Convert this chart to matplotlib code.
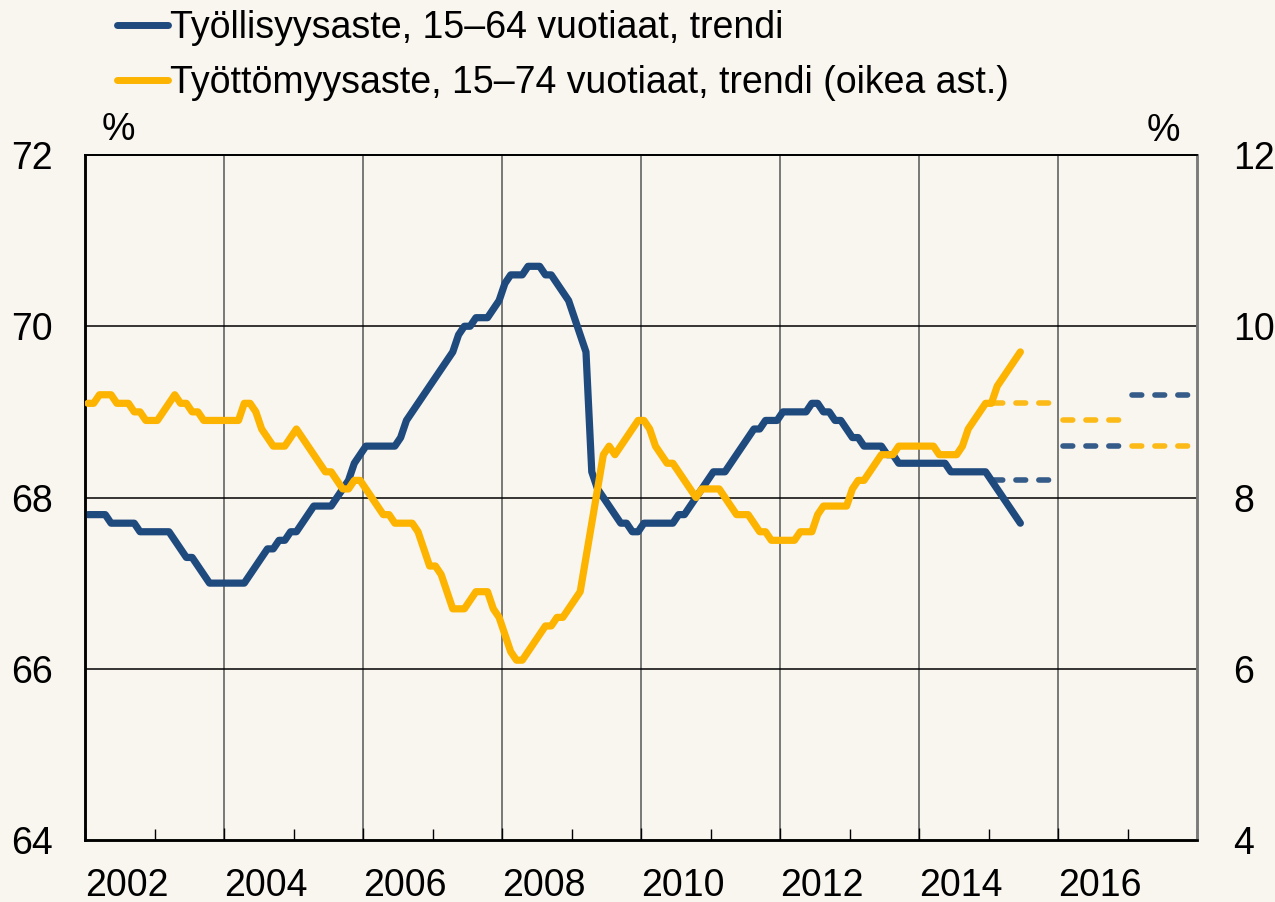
import matplotlib
matplotlib.use('Agg')
import matplotlib.pyplot as plt
from matplotlib.lines import Line2D
from matplotlib.ticker import MultipleLocator

plt.rcParams['font.family'] = ['Liberation Sans', 'DejaVu Sans']
plt.rcParams['lines.scale_dashes'] = False

# monthly trend data, Jan 2002 - Jun 2015 (one row per year)
employment = [
    67.8, 67.8, 67.8, 67.8, 67.7, 67.7, 67.7, 67.7, 67.7, 67.6, 67.6, 67.6,  # 2002
    67.6, 67.6, 67.6, 67.5, 67.4, 67.3, 67.3, 67.2, 67.1, 67.0, 67.0, 67.0,  # 2003
    67.0, 67.0, 67.0, 67.0, 67.1, 67.2, 67.3, 67.4, 67.4, 67.5, 67.5, 67.6,  # 2004
    67.6, 67.7, 67.8, 67.9, 67.9, 67.9, 67.9, 68.0, 68.1, 68.2, 68.4, 68.5,  # 2005
    68.6, 68.6, 68.6, 68.6, 68.6, 68.6, 68.7, 68.9, 69.0, 69.1, 69.2, 69.3,  # 2006
    69.4, 69.5, 69.6, 69.7, 69.9, 70.0, 70.0, 70.1, 70.1, 70.1, 70.2, 70.3,  # 2007
    70.5, 70.6, 70.6, 70.6, 70.7, 70.7, 70.7, 70.6, 70.6, 70.5, 70.4, 70.3,  # 2008
    70.1, 69.9, 69.7, 68.3, 68.1, 68.0, 67.9, 67.8, 67.7, 67.7, 67.6, 67.6,  # 2009
    67.7, 67.7, 67.7, 67.7, 67.7, 67.7, 67.8, 67.8, 67.9, 68.0, 68.1, 68.2,  # 2010
    68.3, 68.3, 68.3, 68.4, 68.5, 68.6, 68.7, 68.8, 68.8, 68.9, 68.9, 68.9,  # 2011
    69.0, 69.0, 69.0, 69.0, 69.0, 69.1, 69.1, 69.0, 69.0, 68.9, 68.9, 68.8,  # 2012
    68.7, 68.7, 68.6, 68.6, 68.6, 68.6, 68.5, 68.5, 68.4, 68.4, 68.4, 68.4,  # 2013
    68.4, 68.4, 68.4, 68.4, 68.4, 68.3, 68.3, 68.3, 68.3, 68.3, 68.3, 68.3,  # 2014
    68.2, 68.1, 68.0, 67.9, 67.8, 67.7,                                      # 2015
]
unemployment = [
    9.1, 9.1, 9.2, 9.2, 9.2, 9.1, 9.1, 9.1, 9.0, 9.0, 8.9, 8.9,  # 2002
    8.9, 9.0, 9.1, 9.2, 9.1, 9.1, 9.0, 9.0, 8.9, 8.9, 8.9, 8.9,  # 2003
    8.9, 8.9, 8.9, 9.1, 9.1, 9.0, 8.8, 8.7, 8.6, 8.6, 8.6, 8.7,  # 2004
    8.8, 8.7, 8.6, 8.5, 8.4, 8.3, 8.3, 8.2, 8.1, 8.1, 8.2, 8.2,  # 2005
    8.1, 8.0, 7.9, 7.8, 7.8, 7.7, 7.7, 7.7, 7.7, 7.6, 7.4, 7.2,  # 2006
    7.2, 7.1, 6.9, 6.7, 6.7, 6.7, 6.8, 6.9, 6.9, 6.9, 6.7, 6.6,  # 2007
    6.4, 6.2, 6.1, 6.1, 6.2, 6.3, 6.4, 6.5, 6.5, 6.6, 6.6, 6.7,  # 2008
    6.8, 6.9, 7.3, 7.7, 8.1, 8.5, 8.6, 8.5, 8.6, 8.7, 8.8, 8.9,  # 2009
    8.9, 8.8, 8.6, 8.5, 8.4, 8.4, 8.3, 8.2, 8.1, 8.0, 8.1, 8.1,  # 2010
    8.1, 8.1, 8.0, 7.9, 7.8, 7.8, 7.8, 7.7, 7.6, 7.6, 7.5, 7.5,  # 2011
    7.5, 7.5, 7.5, 7.6, 7.6, 7.6, 7.8, 7.9, 7.9, 7.9, 7.9, 7.9,  # 2012
    8.1, 8.2, 8.2, 8.3, 8.4, 8.5, 8.5, 8.5, 8.6, 8.6, 8.6, 8.6,  # 2013
    8.6, 8.6, 8.6, 8.5, 8.5, 8.5, 8.5, 8.6, 8.8, 8.9, 9.0, 9.1,  # 2014
    9.1, 9.3, 9.4, 9.5, 9.6, 9.7,                                # 2015
]

# annual forecasts (dashed)
forecast_years = [2015, 2016, 2017]
employment_fc = [68.2, 68.6, 69.2]
unemployment_fc = [9.1, 8.9, 8.6]

label_emp = 'Työllisyysaste, 15–64 vuotiaat, trendi'
label_unemp = 'Työttömyysaste, 15–74 vuotiaat, trendi (oikea ast.)'

blue = '#1f4a7d'
yellow = '#fdb400'
bg = '#f9f5ef'

# mid-month positions in decimal years
t = [2002 + (i + 0.5) / 12 for i in range(len(employment))]

fig = plt.figure(figsize=(12.75, 9.02), dpi=100, facecolor=bg)
ax = fig.add_axes([85 / 1275, 62 / 902, 1112 / 1275, 685 / 902])
ax.set_facecolor(bg)
ax2 = ax.twinx()

fs = 27

ax.plot(t, employment, color=blue, lw=5.2, solid_capstyle='round', solid_joinstyle='round', zorder=3)
ax2.plot(t, unemployment, color=yellow, lw=5.2, solid_capstyle='round', solid_joinstyle='round', zorder=3)

for yr, e, u in zip(forecast_years, employment_fc, unemployment_fc):
    ax.plot([yr + 0.07, yr + 0.9], [e, e], color=blue, lw=4.0, alpha=0.9,
            dashes=(7, 9.5), dash_capstyle='round', zorder=3)
    ax2.plot([yr + 0.07, yr + 0.9], [u, u], color=yellow, lw=4.0, alpha=0.9,
             dashes=(7, 9.5), dash_capstyle='round', zorder=3)

ax.set_xlim(2002, 2018)
ax.set_ylim(64, 72)
ax2.set_ylim(4, 12)

# grid
for yr in range(2004, 2018, 2):
    ax.axvline(yr, color='#6e6e6e', lw=1.3, zorder=1)
for v in [66, 68, 70]:
    ax.axhline(v, color='black', lw=1.1, zorder=1)

ax.set_xticks(range(2002, 2018, 2))
ax.set_xticklabels([str(y) for y in range(2002, 2018, 2)], ha='left', fontsize=fs)
ax.xaxis.set_minor_locator(MultipleLocator(1))
ax.tick_params(axis='x', which='major', direction='in', length=9, width=1, pad=20)
ax.tick_params(axis='x', which='minor', direction='in', length=8, width=1)

ax.set_yticks([64, 66, 68, 70, 72])
ax.tick_params(axis='y', length=0, pad=23, labelsize=fs)
ax2.set_yticks([4, 6, 8, 10, 12])
ax2.tick_params(axis='y', length=0, pad=26, labelsize=fs)

for a in (ax, ax2):
    a.spines['left'].set_color('black')
    a.spines['left'].set_linewidth(1.8)
    a.spines['bottom'].set_linewidth(1.8)
    a.spines['top'].set_linewidth(1.3)
    a.spines['right'].set_color('#7a7a7a')
    a.spines['right'].set_linewidth(1.8)

fig.text(118 / 1275, 1 - 130 / 902, '%', fontsize=fs, ha='center', va='center')
fig.text(1163 / 1275, 1 - 131 / 902, '%', fontsize=fs, ha='center', va='center')

handles = [Line2D([], [], color=blue, lw=5, solid_capstyle='round'),
           Line2D([], [], color=yellow, lw=5, solid_capstyle='round')]
fig.legend(handles, [label_emp, label_unemp], loc='upper left',
           bbox_to_anchor=(102 / 1275, 1.005), frameon=False, fontsize=fs,
           handlelength=1.35, handletextpad=0.05, labelspacing=0.5, borderaxespad=0.0)

fig.savefig('out.png', dpi=100, facecolor=bg)
